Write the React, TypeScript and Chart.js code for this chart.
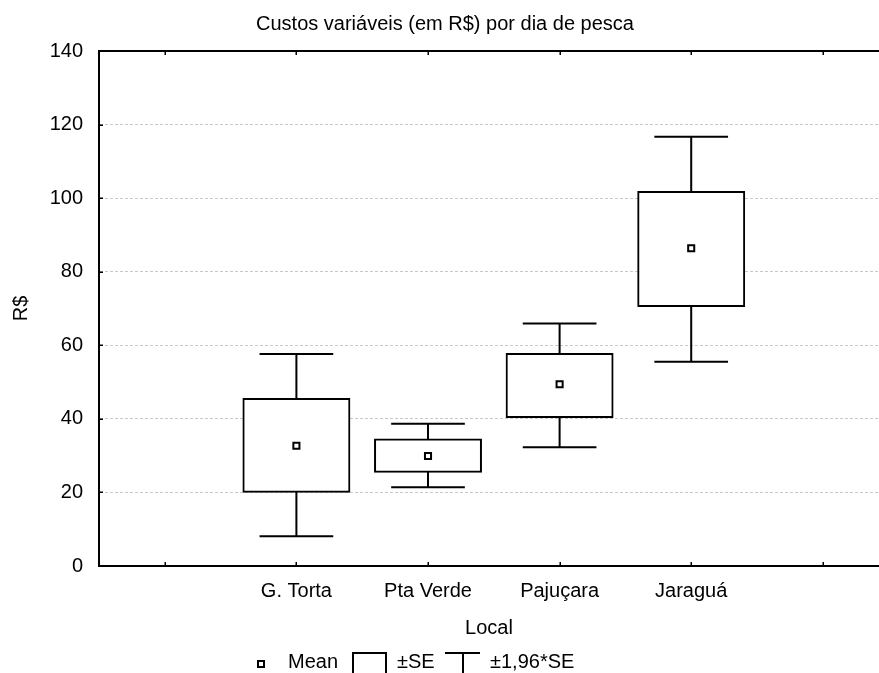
import React, { useEffect, useRef } from 'react';
import { Chart, registerables } from 'chart.js';

Chart.register(...registerables);

const titleText = 'Custos variáveis (em R$) por dia de pesca';
const xAxisTitle = 'Local';
const yAxisTitle = 'R$';
const categories = ['G. Torta', 'Pta Verde', 'Pajuçara', 'Jaraguá'];
const categoryPositions = [2, 3, 4, 5];
const xTickValues = [1, 2, 3, 4, 5, 6];
const yTickValues = [0, 20, 40, 60, 80, 100, 120, 140];
const means = [32.7, 29.9, 49.4, 86.4];
const seLow = [20.2, 25.6, 40.5, 70.7];
const seHigh = [45.4, 34.4, 57.6, 101.7];
const ciLow = [8.1, 21.4, 32.3, 55.5];
const ciHigh = [57.6, 38.7, 65.9, 116.7];
const legendLabels = ['Mean', '±SE', '±1,96*SE'];

const FONT = "'Liberation Sans', Arial, sans-serif";
const CAP_HALF = 0.28;

const whiskerPlugin = {
  id: 'whiskers',
  beforeDatasetsDraw(chart: any) {
    const { ctx, scales } = chart;
    const x = scales.x;
    const y = scales.y;
    ctx.save();
    ctx.strokeStyle = '#000';
    ctx.lineWidth = 2;
    categories.forEach((_, i) => {
      const cx = x.getPixelForValue(categoryPositions[i]);
      const l = x.getPixelForValue(categoryPositions[i] - CAP_HALF);
      const r = x.getPixelForValue(categoryPositions[i] + CAP_HALF);
      const yt = y.getPixelForValue(ciHigh[i]);
      const yb = y.getPixelForValue(ciLow[i]);
      ctx.beginPath();
      ctx.moveTo(cx, y.getPixelForValue(seHigh[i]));
      ctx.lineTo(cx, yt);
      ctx.moveTo(l, yt);
      ctx.lineTo(r, yt);
      ctx.moveTo(cx, y.getPixelForValue(seLow[i]));
      ctx.lineTo(cx, yb);
      ctx.moveTo(l, yb);
      ctx.lineTo(r, yb);
      ctx.stroke();
    });
    ctx.restore();
  },
};

const framePlugin = {
  id: 'frame',
  afterDraw(chart: any) {
    const { ctx, chartArea, scales } = chart;
    const { left, top, bottom } = chartArea;
    const x = scales.x;
    const y = scales.y;
    ctx.save();
    // title
    ctx.fillStyle = '#000';
    ctx.font = `20px ${FONT}`;
    ctx.textBaseline = 'middle';
    ctx.textAlign = 'center';
    ctx.fillText(titleText, 445, 24);

    ctx.strokeStyle = '#000';
    ctx.lineWidth = 2;
    ctx.beginPath();
    ctx.moveTo(left - 1, top);
    ctx.lineTo(chart.width, top);
    ctx.stroke();
    ctx.lineWidth = 1.5;
    ctx.beginPath();
    xTickValues.forEach((v) => {
      const px = Math.round(x.getPixelForValue(v)) + 0.25;
      ctx.moveTo(px, top);
      ctx.lineTo(px, top + 4);
      ctx.moveTo(px, bottom);
      ctx.lineTo(px, bottom - 4);
    });
    yTickValues.forEach((v) => {
      const py = Math.round(y.getPixelForValue(v)) + 0.25;
      ctx.moveTo(left, py);
      ctx.lineTo(left + 4, py);
    });
    ctx.stroke();

    // legend
    const ly = 662.5;
    ctx.lineWidth = 2;
    ctx.strokeStyle = '#000';
    ctx.fillStyle = '#fff';
    ctx.beginPath();
    ctx.rect(258, 661, 6, 6);
    ctx.fill();
    ctx.stroke();
    ctx.beginPath();
    ctx.moveTo(353, 690);
    ctx.lineTo(353, 653);
    ctx.lineTo(386, 653);
    ctx.lineTo(386, 690);
    ctx.stroke();
    ctx.beginPath();
    ctx.moveTo(445, 653);
    ctx.lineTo(480, 653);
    ctx.moveTo(463, 653);
    ctx.lineTo(463, 690);
    ctx.stroke();
    ctx.fillStyle = '#000';
    ctx.textAlign = 'left';
    ctx.fillText(legendLabels[0], 288, ly);
    ctx.fillText(legendLabels[1], 397, ly);
    ctx.fillText(legendLabels[2], 490, ly);
    ctx.restore();
  },
};

export default function App() {
  const canvasRef = useRef<HTMLCanvasElement | null>(null);

  useEffect(() => {
    if (!canvasRef.current) return;
    const chart = new Chart(canvasRef.current, {
      type: 'bar',
      data: {
        datasets: [
          {
            type: 'scatter',
            label: legendLabels[0],
            data: categories.map((_, i) => ({ x: categoryPositions[i], y: means[i] })),
            pointStyle: 'rect',
            pointRadius: 4.3,
            pointBorderWidth: 2,
            pointBackgroundColor: '#fff',
            pointBorderColor: '#000',
            showLine: false,
            order: 0,
          } as any,
          {
            type: 'bar',
            label: legendLabels[1],
            data: categories.map((_, i) => ({ x: categoryPositions[i], y: [seLow[i], seHigh[i]] })) as any,
            backgroundColor: '#fff',
            borderColor: '#000',
            borderWidth: 2,
            borderSkipped: false,
            inflateAmount: 1,
            categoryPercentage: 0.805,
            barPercentage: 1,
            order: 1,
          } as any,
        ],
      },
      options: {
        responsive: false,
        animation: false,
        events: [],
        layout: { autoPadding: false, padding: { left: 0, right: 0, top: 51, bottom: 33 } },
        plugins: {
          legend: { display: false },
          tooltip: { enabled: false },
          title: { display: false },
        },
        scales: {
          x: {
            type: 'linear',
            min: 0.5,
            max: 6.427,
            offset: false,
            afterBuildTicks: (scale: any) => {
              scale.ticks = xTickValues.map((v) => ({ value: v }));
            },
            afterFit: (scale: any) => {
              scale.height = 74;
              scale.paddingLeft = 0;
              scale.paddingRight = 0;
            },
            ticks: {
              autoSkip: false,
              maxRotation: 0,
              minRotation: 0,
              padding: 13,
              color: '#000',
              font: { family: FONT, size: 20 },
              callback: (value: any) => {
                const idx = categoryPositions.indexOf(Number(value));
                return idx >= 0 ? categories[idx] : '';
              },
            },
            grid: { display: false, drawTicks: false, offset: false },
            border: { display: true, color: '#000', width: 2 },
            title: {
              display: true,
              text: xAxisTitle,
              color: '#000',
              font: { family: FONT, size: 20 },
              padding: { top: 0, bottom: 0 },
            },
          },
          y: {
            type: 'linear',
            min: 0,
            max: 140,
            afterBuildTicks: (scale: any) => {
              scale.ticks = yTickValues.map((v) => ({ value: v }));
            },
            afterFit: (scale: any) => {
              scale.width = 99;
              scale.paddingTop = 0;
              scale.paddingBottom = 0;
            },
            ticks: {
              padding: 16,
              color: '#000',
              font: { family: FONT, size: 20 },
            },
            grid: {
              drawTicks: false,
              lineWidth: 1,
              color: (ctx: any) =>
                ctx.tick && (ctx.tick.value === 0 || ctx.tick.value === 140) ? 'rgba(0,0,0,0)' : '#c8c8c8',
            },
            border: { display: true, color: '#000', width: 2, dash: [3, 2] },
            title: {
              display: true,
              text: yAxisTitle,
              color: '#000',
              font: { family: FONT, size: 20 },
              padding: { top: 9, bottom: 0 },
            },
          },
        },
      } as any,
      plugins: [whiskerPlugin, framePlugin],
    });
    return () => chart.destroy();
  }, []);

  return (
    <div style={{ position: 'absolute', left: 0, top: 0, width: 879, height: 673 }}>
      <canvas ref={canvasRef} width={879} height={673} style={{ display: 'block' }} />
    </div>
  );
}
